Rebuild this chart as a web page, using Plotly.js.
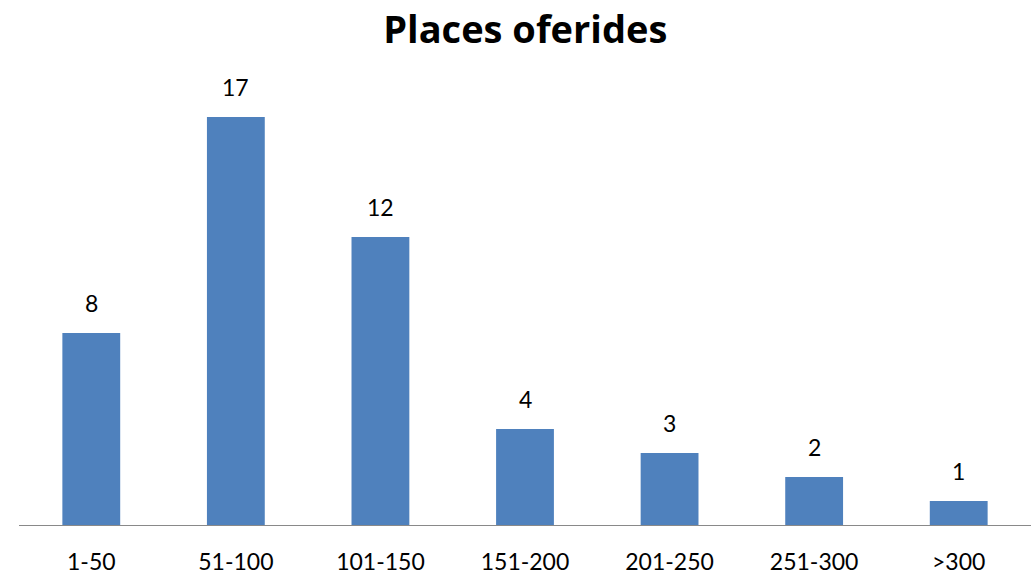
<!DOCTYPE html>
<html>
<head>
<meta charset="utf-8">
<script src="https://cdn.plot.ly/plotly-3.0.1.min.js"></script>
<style>html,body{margin:0;padding:0;background:#fff;}#chart{width:1036px;height:575px;}</style>
</head>
<body>
<div id="chart"></div>
<script>
const categories = ["1-50", "51-100", "101-150", "151-200", "201-250", "251-300", ">300"];
const values = [8, 17, 12, 4, 3, 2, 1];
const chartTitle = "Places oferides";

const font = "Lato, Carlito, Calibri, 'Open Sans', sans-serif";
const titleFont = "'Open Sans', Carlito, Calibri, sans-serif";

const trace = {
  type: "bar",
  x: categories,
  y: values,
  marker: { color: "#4F81BD" },
  width: 0.4,
  hoverinfo: "x+y"
};

const annotations = categories.map((c, i) => ({
  x: c, y: values[i], xref: "x", yref: "y",
  text: String(values[i]), showarrow: false,
  yanchor: "bottom", yshift: 14,
  font: { family: font, size: 23, color: "#000" }
}));

const layout = {
  width: 1036, height: 575,
  margin: { l: 19, r: 5, t: 69, b: 50 },
  paper_bgcolor: "#fff", plot_bgcolor: "#fff",
  showlegend: false,
  title: {
    text: "<b>" + chartTitle + "</b>",
    font: { family: titleFont, size: 38, color: "#000" },
    x: 0.507, xanchor: "center", y: 1 - 30/575, yanchor: "middle", yref: "container"
  },
  xaxis: {
    type: "category",
    showline: true, linecolor: "#898989", linewidth: 1,
    ticks: "outside", ticklen: 16, tickcolor: "rgba(0,0,0,0)",
    tickfont: { family: font, size: 23, color: "#000" },
    showgrid: false, zeroline: false
  },
  yaxis: {
    range: [0, 19], visible: false, showgrid: false, zeroline: false
  },
  annotations: annotations
};

Plotly.newPlot("chart", [trace], layout, { displayModeBar: false, staticPlot: true });
</script>
</body>
</html>
